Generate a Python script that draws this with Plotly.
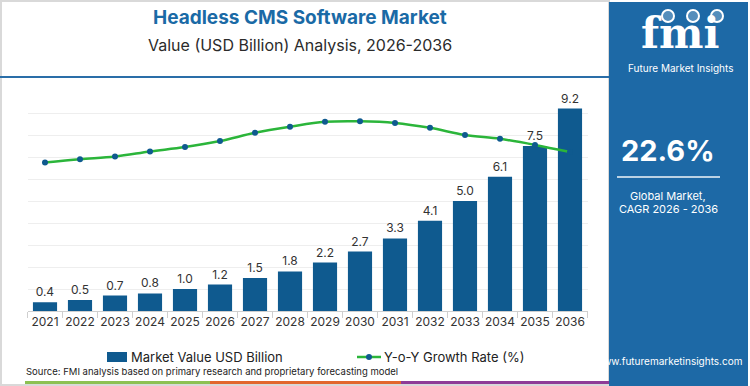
import plotly.graph_objects as go

years = ["2021", "2022", "2023", "2024", "2025", "2026", "2027", "2028",
         "2029", "2030", "2031", "2032", "2033", "2034", "2035", "2036"]
market_value = [0.4, 0.5, 0.7, 0.8, 1.0, 1.2, 1.5, 1.8, 2.2, 2.7, 3.3, 4.1, 5.0, 6.1, 7.5, 9.2]
yoy_growth = [27.0, 27.6, 28.1, 29.0, 29.8, 30.9, 32.4, 33.5, 34.4, 34.5, 34.2, 33.3, 32.0, 31.3, 30.2, 28.9]
value_labels = [f"{v:.1f}" for v in market_value]
series_names = ["Market Value USD Billion", "Y-o-Y Growth Rate (%)"]

title_text = "Headless CMS Software Market"
subtitle_text = "Value (USD Billion) Analysis, 2026-2036"
cagr_text = "22.6%"
source_text = "Source: FMI analysis based on primary research and proprietary forecasting model"

W, H = 750, 386
FONT = "Inter, Open Sans, sans-serif"
BAR_BLUE = "#0f5a8f"
PANEL_BLUE = "#1d69a6"
GREEN = "#2bb53a"


def px(x):
    return x / W


def py(y):
    return 1 - y / H


fig = go.Figure()
fig.add_trace(go.Bar(
    x=years, y=market_value, name=series_names[0],
    marker=dict(color=BAR_BLUE, line=dict(width=0)), width=0.69,
    text=value_labels, textposition="outside", cliponaxis=False,
    textfont=dict(size=12, color="#333333", family=FONT), showlegend=False,
))
fig.add_trace(go.Scatter(
    x=years, y=yoy_growth, name=series_names[1], yaxis="y2",
    mode="lines+markers", line=dict(color=GREEN, width=2.5, shape="spline"),
    marker=dict(color=BAR_BLUE, size=6), showlegend=False,
))

shapes = []
# outer light frame
shapes.append(dict(type="rect", xref="paper", yref="paper", x0=px(1), x1=px(609), y0=py(385), y1=py(1),
                   line=dict(color="#d9d9d9", width=2), fillcolor="rgba(0,0,0,0)", layer="below"))
# header rule
shapes.append(dict(type="line", xref="paper", yref="paper", x0=0, x1=px(609), y0=py(77), y1=py(77),
                   line=dict(color="#2a6ea8", width=2)))
# right panel
shapes.append(dict(type="rect", xref="paper", yref="paper", x0=px(609), x1=px(748), y0=0, y1=py(2),
                   line=dict(width=0), fillcolor=PANEL_BLUE, layer="below"))
# panel separator line
shapes.append(dict(type="line", xref="paper", yref="paper", x0=px(617), x1=px(720), y0=py(177), y1=py(177),
                   line=dict(color="rgba(255,255,255,0.7)", width=2)))
# bottom colour stripes
for x0, x1, c in [(25, 210, "#8cc152"), (210, 401, "#e2672e"), (401, 609, "#8e3b97")]:
    shapes.append(dict(type="rect", xref="paper", yref="paper", x0=px(x0), x1=px(x1), y0=py(384), y1=py(381),
                       line=dict(width=0), fillcolor=c))
# logo globe dots
for cx in [668, 693, 717]:
    shapes.append(dict(type="circle", xref="paper", yref="paper", x0=px(cx - 6), x1=px(cx + 6),
                       y0=py(22), y1=py(10), line=dict(color="white", width=2), fillcolor="rgba(255,255,255,0.25)"))
# manual legend swatches
shapes.append(dict(type="rect", xref="paper", yref="paper", x0=px(107), x1=px(127), y0=py(362), y1=py(352),
                   line=dict(width=0), fillcolor=BAR_BLUE))
shapes.append(dict(type="line", xref="paper", yref="paper", x0=px(357), x1=px(381), y0=py(357), y1=py(357),
                   line=dict(color=GREEN, width=2.5)))
shapes.append(dict(type="circle", xref="paper", yref="paper", x0=px(366), x1=px(372), y0=py(360), y1=py(354),
                   line=dict(width=0), fillcolor=BAR_BLUE))

annotations = [
    dict(text=f"<b>{title_text}</b>", x=px(300), y=py(18), xref="paper", yref="paper", showarrow=False,
         font=dict(size=19, color="#1a6aa6", family=FONT), xanchor="center", yanchor="middle"),
    dict(text=subtitle_text, x=px(300), y=py(45), xref="paper", yref="paper", showarrow=False,
         font=dict(size=16, color="#2b2b2b", family=FONT), xanchor="center", yanchor="middle"),
    dict(text=source_text, x=px(24), y=py(371), xref="paper", yref="paper", showarrow=False,
         font=dict(size=9.5, color="#222222", family=FONT), xanchor="left", yanchor="middle"),
    dict(text=series_names[0], x=px(129), y=py(357), xref="paper", yref="paper", showarrow=False,
         font=dict(size=13, color="#222222", family=FONT), xanchor="left", yanchor="middle"),
    dict(text=series_names[1], x=px(382), y=py(357), xref="paper", yref="paper", showarrow=False,
         font=dict(size=13, color="#222222", family=FONT), xanchor="left", yanchor="middle"),
    dict(text="<b>fmi</b>", x=px(680), y=py(34), xref="paper", yref="paper", showarrow=False,
         font=dict(size=42, color="white", family="DejaVu Serif"), xanchor="center", yanchor="middle"),
    dict(text="Future Market Insights", x=px(680), y=py(68), xref="paper", yref="paper", showarrow=False,
         font=dict(size=10, color="white", family=FONT), xanchor="center", yanchor="middle"),
    dict(text=f"<b>{cagr_text}</b>", x=px(668), y=py(150), xref="paper", yref="paper", showarrow=False,
         font=dict(size=29, color="white", family=FONT), xanchor="center", yanchor="middle"),
    dict(text="Global Market,", x=px(668), y=py(196), xref="paper", yref="paper", showarrow=False,
         font=dict(size=11, color="white", family=FONT), xanchor="center", yanchor="middle"),
    dict(text="CAGR 2026 - 2036", x=px(668), y=py(209), xref="paper", yref="paper", showarrow=False,
         font=dict(size=11, color="white", family=FONT), xanchor="center", yanchor="middle"),
    dict(text="www.futuremarketinsights.com", x=px(668), y=py(361), xref="paper", yref="paper", showarrow=False,
         font=dict(size=10, color="white", family=FONT), xanchor="center", yanchor="middle"),
]

fig.update_layout(
    width=W, height=H, margin=dict(l=0, r=0, t=0, b=0, autoexpand=False),
    paper_bgcolor="white", plot_bgcolor="white",
    font=dict(family=FONT, color="#333333"),
    xaxis=dict(domain=[px(27.5), px(587.5)], type="category", range=[-0.5, 15.5], automargin=False,
               showgrid=False, showline=True, linecolor="#cfcfcf", linewidth=1, tickangle=0,
               ticks="outside", tickson="boundaries", ticklen=6, tickcolor="#cfcfcf",
               tickfont=dict(size=12, color="#333333", family=FONT)),
    yaxis=dict(domain=[py(311), py(91)], range=[0, 10], dtick=1, showgrid=True, gridcolor="#eeeeee",
               gridwidth=1, showticklabels=False, zeroline=False, showline=False, automargin=False),
    yaxis2=dict(overlaying="y", range=[0, 40], showgrid=False, showticklabels=False, zeroline=False,
                showline=False, automargin=False),
    showlegend=False,
    shapes=shapes, annotations=annotations,
)

fig.write_html("out.html", config={"displayModeBar": False},
               post_script="document.body.style.margin='0';document.body.style.overflow='hidden';")
